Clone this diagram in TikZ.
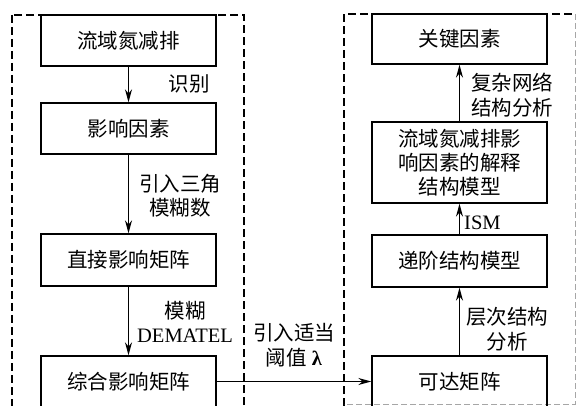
\documentclass[tikz,border=0pt]{standalone}
\usepackage{fontspec}
\setmainfont{Liberation Serif}
\newfontfamily\cjk{Noto Sans CJK SC}
\usetikzlibrary{arrows.meta}
\tikzset{
  box/.style={draw, line width=1.4pt, minimum width=175pt, inner sep=0pt, align=center,
    font=\cjk\fontsize{20.5}{24}\selectfont},
  lbl/.style={inner sep=0pt, align=center, font=\fontsize{20.5}{24.5}\selectfont},
  arr/.style={line width=1.2pt, -{Stealth[length=13pt,width=7pt]}},
  dbox/.style={dash pattern=on 8pt off 4pt, line width=2.3pt},
  fbox/.style={dash pattern=on 6pt off 3pt, line width=0.8pt, draw=black!35}
}
\begin{document}
\begin{tikzpicture}[x=1pt,y=-1pt]
\useasboundingbox (0,0) rectangle (576,406);
\clip (0,0) rectangle (576,406);
% frames
\draw[dbox] (12,15) rectangle (244,430);
\draw[dbox] (344,430) -- (344,14) -- (575,14);
\draw[fbox] (575,14) -- (575,404) -- (344,404);
% left column
\node[box, minimum height=51pt] (b1) at (128.5,40.5) {流域氮减排};
\node[box, minimum height=51pt] (b2) at (128.5,128.5) {影响因素};
\node[box, minimum height=52pt] (b3) at (128.5,260) {直接影响矩阵};
\node[box, minimum height=51pt] (b4) at (128.5,381.5) {综合影响矩阵};
% right column
\node[box, minimum height=50pt] (rA) at (459.5,39) {关键因素};
\node[box, minimum height=81pt] (rB) at (459.5,162.5) {流域氮减排影\\响因素的解释\\结构模型};
\node[box, minimum height=52pt] (rC) at (459.5,261) {递阶结构模型};
\node[box, minimum height=51pt] (rD) at (459.5,381.5) {可达矩阵};
% connectors
\draw[arr] (b1) -- (b2);
\draw[arr] (b2) -- (b3);
\draw[arr] (b3) -- (b4);
\draw[arr] (b4) -- (rD);
\draw[arr] (rD) -- (rC);
\draw[arr] (rC) -- (rB);
\draw[arr] (rB) -- (rA);
% labels
\node[lbl] (l1) at (189,84) {\cjk 识别};
\node[lbl] (l2) at (180,196) {\cjk 引入三角\\\cjk 模糊数};
\node[lbl] (l3) at (185,322) {\cjk 模糊\\DEMATEL};
\node[lbl] (l4) at (294,345) {\cjk 引入适当\\{\cjk 阈值}\ \textbf{λ}};
\node[lbl] (l5) at (512,95) {\cjk 复杂网络\\\cjk 结构分析};
\node[lbl, anchor=west] (l6) at (464,223) {ISM};
\node[lbl] (l7) at (507,329) {\cjk 层次结构\\\cjk 分析};
\end{tikzpicture}
\end{document}
